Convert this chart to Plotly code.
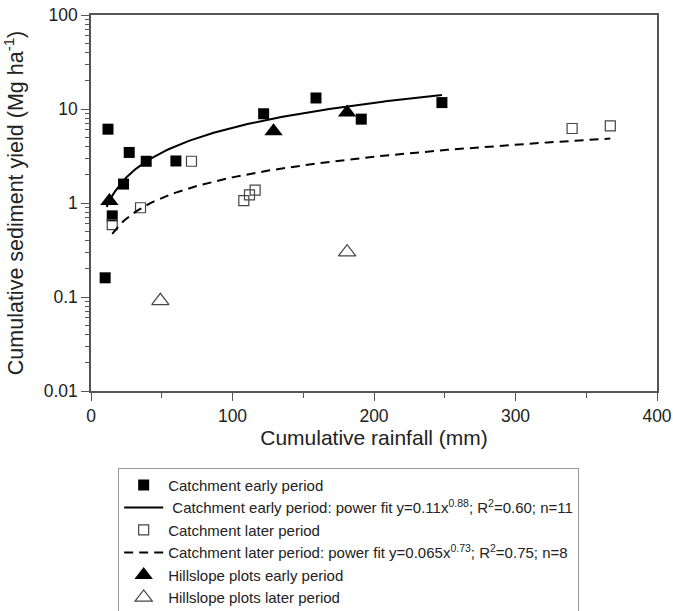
import numpy as np
import plotly.graph_objects as go

# Catchment early period (filled squares)
early_rain = [10, 12, 15, 23, 27, 39, 60, 122, 159, 191, 248]
early_yield = [0.16, 6.1, 0.73, 1.59, 3.45, 2.78, 2.8, 8.9, 13.1, 7.8, 11.7]

# Catchment later period (open squares)
later_rain = [15, 35, 71, 108, 112, 116, 340, 367]
later_yield = [0.59, 0.89, 2.78, 1.06, 1.22, 1.37, 6.2, 6.6]

# Hillslope plots
hs_early_rain = [13, 129, 181]
hs_early_yield = [1.05, 5.8, 9.2]
hs_later_rain = [49, 181]
hs_later_yield = [0.091, 0.30]

# Power fits y = a * x^b (coefficients from legend)
fit_early_a, fit_early_b, fit_early_range = 0.11, 0.88, (11, 248)
fit_later_a, fit_later_b, fit_later_range = 0.065, 0.73, (15, 367)

# Axis ticks
y_ticks = [0.01, 0.1, 1, 10, 100]
y_ticktext = ["0.01", "0.1", "1", "10", "100"]
y_minor = [m * d for d in (0.01, 0.1, 1, 10) for m in range(2, 10)]

xe = np.linspace(*fit_early_range, 120)
ye = fit_early_a * xe ** fit_early_b
xl = np.linspace(*fit_later_range, 120)
yl = fit_later_a * xl ** fit_later_b

FONT = "Liberation Sans, Arial, sans-serif"
AX = "#555555"
TXT = "#222222"

fig = go.Figure()
fig.add_trace(go.Scatter(x=early_rain, y=early_yield, mode="markers",
                         name="Catchment early period",
                         marker=dict(symbol="square", size=11, color="black",
                                     line=dict(width=0))))
fig.add_trace(go.Scatter(x=xe, y=ye, mode="lines",
                         name=" Catchment early period: power fit y=0.11x<sup>0.88</sup>; R<sup>2</sup>=0.60; n=11",
                         line=dict(color="black", width=2)))
fig.add_trace(go.Scatter(x=later_rain, y=later_yield, mode="markers",
                         name="Catchment later period",
                         marker=dict(symbol="square-open", size=10, color="#444444",
                                     line=dict(width=1.2))))
fig.add_trace(go.Scatter(x=xl, y=yl, mode="lines",
                         name="Catchment later period: power fit y=0.065x<sup>0.73</sup>; R<sup>2</sup>=0.75; n=8",
                         line=dict(color="black", width=2, dash="9px,6px")))
fig.add_trace(go.Scatter(x=hs_early_rain, y=hs_early_yield, mode="markers",
                         name="Hillslope plots early period",
                         marker=dict(symbol="triangle-up", size=16, color="black",
                                     line=dict(width=0))))
fig.add_trace(go.Scatter(x=hs_later_rain, y=hs_later_yield, mode="markers",
                         name="Hillslope plots later period",
                         marker=dict(symbol="triangle-up-open", size=15, color="#444444",
                                     line=dict(width=1.2))))

fig.update_layout(
    width=673, height=611,
    margin=dict(l=91, r=16, t=15, b=220, autoexpand=False),
    plot_bgcolor="white", paper_bgcolor="white",
    font=dict(family=FONT, color=TXT),
    showlegend=True,
    legend=dict(x=0.048, y=-0.204, xanchor="left", yanchor="top",
                bordercolor="#999999", borderwidth=1, itemwidth=39,
                font=dict(size=15.0, family=FONT, color=TXT),
                bgcolor="white"),
)
fig.update_xaxes(range=[0, 400], dtick=100, tick0=0, automargin=True,
                 ticklabeloverflow="allow",
                 showline=True, linecolor=AX, linewidth=1.5, mirror=True,
                 ticks="outside", ticklen=8, tickcolor=AX,
                 minor=dict(ticks="outside", ticklen=5, dtick=50, tickcolor=AX),
                 showgrid=False, zeroline=False,
                 tickfont=dict(size=17.5, family=FONT, color=TXT),
                 title=dict(text="Cumulative rainfall (mm)", standoff=5,
                            font=dict(size=21, family=FONT, color=TXT)))
fig.update_yaxes(type="log", range=[-2, 2], automargin=False,
                 ticklabeloverflow="allow",
                 tickvals=y_ticks, ticktext=y_ticktext,
                 showline=True, linecolor=AX, linewidth=1.5, mirror=True,
                 ticks="outside", ticklen=8, tickcolor=AX,
                 minor=dict(ticks="outside", ticklen=4, tickcolor=AX, tickvals=y_minor),
                 showgrid=False, zeroline=False,
                 tickfont=dict(size=17.5, family=FONT, color=TXT),
                 title=dict(text="Cumulative sediment yield (Mg ha<sup>-1</sup>)",
                            font=dict(size=21.5, family=FONT, color=TXT)))

# remove the default page margin so the figure sits at the window origin
fig.write_html("out.html", config={"displayModeBar": False},
               post_script="document.body.style.margin='0';document.body.style.overflow='hidden';")
